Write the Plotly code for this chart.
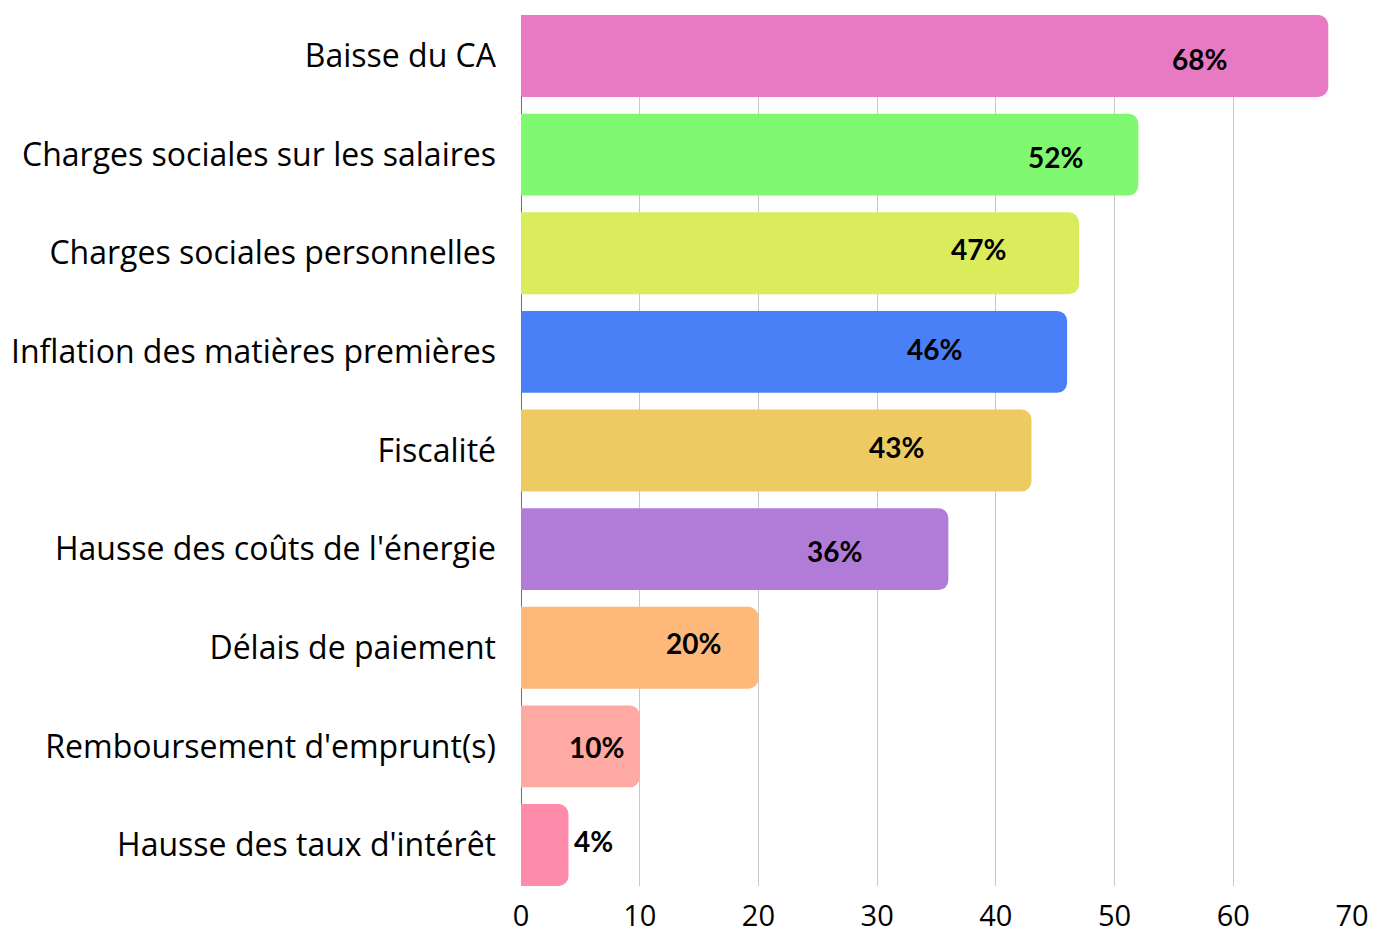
import plotly.graph_objects as go

categories = [
    "Baisse du CA",
    "Charges sociales sur les salaires",
    "Charges sociales personnelles",
    "Inflation des matières premières",
    "Fiscalité",
    "Hausse des coûts de l'énergie",
    "Délais de paiement",
    "Remboursement d'emprunt(s)",
    "Hausse des taux d'intérêt",
]
values = [68, 52, 47, 46, 43, 36, 20, 10, 4]
labels = ["68%", "52%", "47%", "46%", "43%", "36%", "20%", "10%", "4%"]
colors = ["#E879C3", "#80F870", "#DAEB5C", "#4A80F7", "#EDCB62",
          "#B07CD8", "#FEB87A", "#FEA9A1", "#FF8BAA"]
x_ticks = [0, 10, 20, 30, 40, 50, 60, 70]

# label placement styles (pixel shifts relative to bar end)
label_xshift = [-101, -55, -73, -105, -107, -86, -37, -16, 6]
label_yshift = [-3, -2, 4, 3, 4, -2, 5, -1, 4]

FONT = "Open Sans"
LABEL_FONT = "Lato"

fig = go.Figure()
fig.add_trace(go.Bar(
    x=values, y=categories, orientation="h",
    marker=dict(color=colors, cornerradius=10, line=dict(width=0)),
    hoverinfo="skip",
))

for cat, v, lab, xs, ys in zip(categories, values, labels, label_xshift, label_yshift):
    fig.add_annotation(
        x=v, y=cat, xref="x", yref="y", text=f"<b>{lab}</b>", showarrow=False,
        xanchor="left" if xs > 0 else "right", yanchor="middle",
        xshift=xs, yshift=ys, borderpad=0, borderwidth=0,
        font=dict(family=LABEL_FONT, size=28, color="#000000"),
    )

n = len(categories)
gap = 0.1686
fig.update_layout(
    width=1376, height=931,
    margin=dict(l=521, r=24, t=15, b=45, pad=0, autoexpand=False),
    paper_bgcolor="white", plot_bgcolor="white",
    bargap=gap, showlegend=False,
    font=dict(family=FONT, size=30, color="#000000"),
    xaxis=dict(
        range=[0, 70], tickvals=x_ticks, showgrid=True, gridcolor="#C8C8C8",
        gridwidth=1, zeroline=True, zerolinecolor="#707070", zerolinewidth=1,
        showline=False, ticks="", ticklabelstandoff=10, automargin=False,
        tickfont=dict(family=FONT, size=29, color="#000"),
        fixedrange=True,
    ),
    yaxis=dict(
        categoryorder="array", categoryarray=categories,
        range=[n - 0.5 - gap / 2, -0.5 + gap / 2],
        showgrid=False, zeroline=False, showline=False, ticks="",
        ticklabelstandoff=24, automargin=False,
        tickfont=dict(family=FONT, size=32, color="#000"),
        fixedrange=True,
    ),
)

fig.write_html("out.html", config={"displayModeBar": False},
               post_script="document.body.style.margin='0';")
